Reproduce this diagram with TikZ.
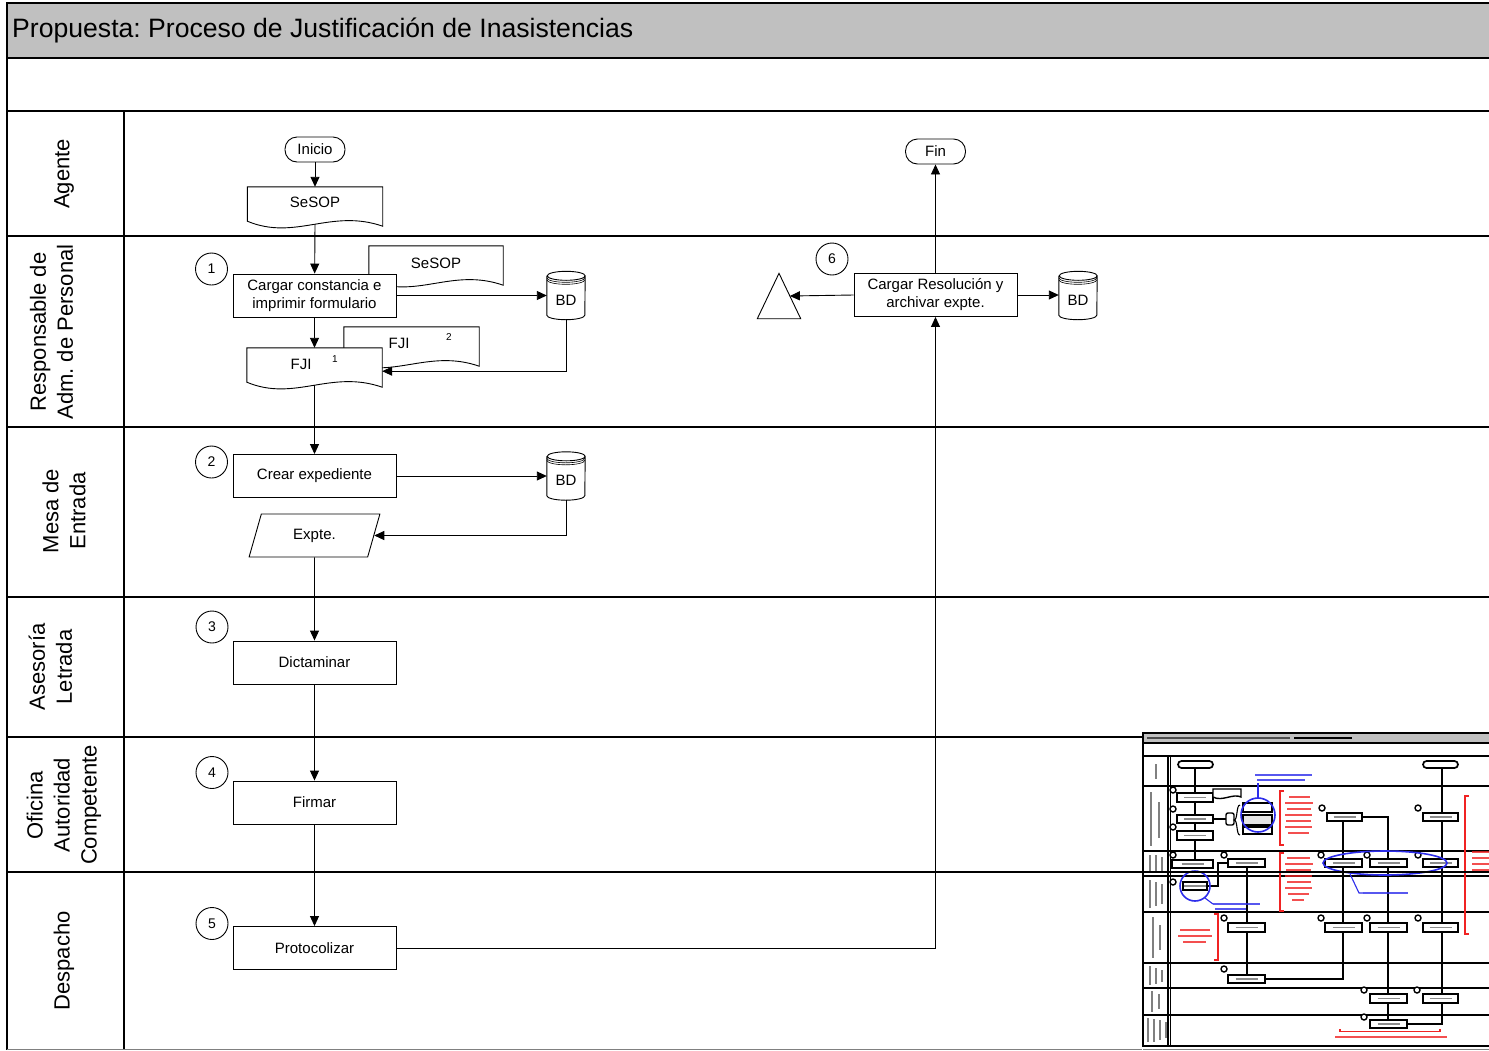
\documentclass[tikz,border=0pt]{standalone}
\usepackage{fontspec}
\setmainfont{Liberation Sans}
\usetikzlibrary{arrows.meta,calc,shapes.geometric}
\frenchspacing

\definecolor{bandgray}{RGB}{192,192,192}
\definecolor{thblue}{RGB}{45,45,235}
\definecolor{thred}{RGB}{240,35,35}

\newcommand\nodefont{\fontsize{15}{18}\selectfont}
\newcommand\lanefont{\fontsize{22}{27}\selectfont}
\newcommand\numfont{\fontsize{14}{16}\selectfont}
\newcommand\supfont{\fontsize{10}{12}\selectfont}
\newcommand\titlefont{\fontsize{26.6}{30}\selectfont}

% document outline (wavy bottom) around an empty node
\newcommand\docoutline[1]{%
  \draw[shapeline,fill=white] (#1.north west) -- (#1.north east) -- ($(#1.south east)+(0,3)$)
    .. controls ($(#1.south east)+(-52,-15)$) and ($(#1.south west)+(48,18)$) .. ($(#1.south west)+(0,-2)$) -- cycle;}

% database cylinder around an empty node
\newcommand\dboutline[1]{%
  \draw[shapeline,fill=white] ($(#1.north west)+(0,4.5)$) -- ($(#1.south west)+(0,-4.5)$)
    arc[start angle=180,end angle=360,x radius=19pt,y radius=4.5pt] -- ($(#1.north east)+(0,4.5)$)
    arc[start angle=0,end angle=360,x radius=19pt,y radius=4.5pt];
  \draw[line width=0.6pt] ($(#1.north west)+(0,6.5)$) arc[start angle=180,end angle=360,x radius=19pt,y radius=4.5pt];
  \draw[line width=0.6pt] ($(#1.north west)+(0,8.5)$) arc[start angle=180,end angle=360,x radius=19pt,y radius=4.5pt];}

% small process box of the inset sheet
\newcommand\thbox[4]{%
  \draw[line width=1.7pt,fill=white] (#1,#2) rectangle (#3,#4);
  \draw[line width=1.2pt,black!45] ($(#1,#2)!0.5!(#3,#4)+(-11,0)$) -- ++(22,0);}
\newcommand\thcirc[2]{\draw[line width=1.4pt,fill=white] (#1,#2) circle[radius=3pt];}

\begin{document}
\begin{tikzpicture}[x=1pt,y=-1pt,
  shapeline/.style={line width=0.9pt,draw=black},
  proc/.style={shapeline,fill=white,minimum width=163pt,minimum height=43pt,inner sep=0pt,align=center,font=\nodefont},
  term/.style={shapeline,fill=white,rounded corners=12pt,minimum width=60pt,minimum height=25pt,inner sep=0pt,font=\nodefont},
  docbox/.style={minimum width=135pt,minimum height=36pt,inner sep=0pt},
  dbbox/.style={minimum width=38pt,minimum height=48pt,inner sep=0pt},
  tribox/.style={minimum width=43pt,minimum height=45pt,inner sep=0pt},
  expteshape/.style={trapezium,trapezium left angle=70,trapezium right angle=110,trapezium stretches=true,
     shapeline,fill=white,minimum width=131pt,minimum height=43pt,inner sep=0pt,font=\nodefont},
  txt/.style={font=\nodefont,inner sep=0pt},
  stepnum/.style={shapeline,circle,minimum size=32pt,inner sep=0pt,font=\numfont},
  flow/.style={line width=0.9pt,-{Triangle[length=10pt,width=9pt]}},
  laneline/.style={line width=1.5pt},
  lanelabel/.style={rotate=90,align=center,font=\lanefont,inner sep=0pt},
  thline/.style={line width=1.6pt},
  thtext/.style={line width=1.2pt,opacity=0.8}]

\path[clip] (0,0) rectangle (1489,1050);

% ---- frame, title band and swimlanes
\fill[bandgray] (7,3) rectangle (1489,58);
\draw[line width=2.5pt] (1489,3) -- (7,3) -- (7,1050);
\draw[line width=2.5pt] (7,58) -- (1489,58);
\draw[line width=2.5pt] (7,111) -- (1489,111);
\draw[laneline] (124,111) -- (124,1050);
\foreach \y in {236,427,597,737,872} \draw[laneline] (7,\y) -- (1489,\y);
\draw[line width=1pt,gray] (7,1049) -- (1489,1049);

\node[anchor=west,font=\titlefont,inner sep=0pt] (title) at (12,30)
  {Propuesta: Proceso de Justificación de Inasistencias};

\node[lanelabel] (lagente) at (64,174) {Agente};
\node[lanelabel] (lresp) at (51.5,332) {Responsable de\\Adm. de Personal};
\node[lanelabel] (lmesa) at (64,511) {Mesa de\\Entrada};
\node[lanelabel] (lases) at (50.5,667) {Asesoría\\Letrada};
\node[lanelabel] (lofic) at (64,805) {Oficina\\Autoridad\\Competente};
\node[lanelabel] (ldesp) at (64,961) {Despacho};

% ---- Agente
\node[term] (inicio) at (315,149.5) {Inicio};
\node[docbox] (sesopA) at (315,205) {};
\docoutline{sesopA}
\node[txt] (sesopAt) at (315,202) {SeSOP};

% ---- Responsable de Adm. de Personal
\node[stepnum] (n1) at (211.5,269) {1};
\node[docbox,minimum width=134pt] (sesopB) at (436,264) {};
\docoutline{sesopB}
\node[txt] (sesopBt) at (436,263) {SeSOP};
\node[proc] (cargar) at (314.5,295.5) {Cargar constancia e\\imprimir formulario};
\node[dbbox] (bd1) at (566,295.5) {};
\dboutline{bd1}
\node[txt] (bd1t) at (566,300) {BD};
\node[docbox] (fji2) at (411.5,345) {};
\docoutline{fji2}
\node[txt] (fji2t) at (399,343) {FJI};
\node[txt,font=\supfont] (fji2s) at (449,337) {2};
\node[docbox] (fji1) at (314.5,366) {};
\docoutline{fji1}
\node[txt] (fji1t) at (301,364) {FJI};
\node[txt,font=\supfont] (fji1s) at (335,359) {1};

% ---- Mesa de Entrada
\node[stepnum] (n2) at (211.5,462) {2};
\node[proc] (crear) at (314.5,476) {Crear expediente};
\node[dbbox] (bd2) at (566,476) {};
\dboutline{bd2}
\node[txt] (bd2t) at (566,480.5) {BD};
\node[expteshape] (expte) at (314.5,535.5) {Expte.};

% ---- Asesoría Letrada, Oficina, Despacho
\node[stepnum] (n3) at (212,627) {3};
\node[proc] (dict) at (314.5,662.5) {Dictaminar};
\node[stepnum] (n4) at (212,772.5) {4};
\node[proc] (firmar) at (314.5,802.5) {Firmar};
\node[stepnum] (n5) at (212,923.5) {5};
\node[proc] (proto) at (314.5,948) {Protocolizar};

% ---- closing step
\node[stepnum] (n6) at (832,259) {6};
\node[proc] (resol) at (935.5,295) {Cargar Resolución y\\archivar expte.};
\node[tribox] (tri) at (779,296) {};
\draw[shapeline,fill=white] (tri.north) -- (tri.south east) -- (tri.south west) -- cycle;
\node[dbbox] (bd3) at (1078,295.5) {};
\dboutline{bd3}
\node[txt] (bd3t) at (1078,300) {BD};
\node[term] (fin) at (935.5,151.5) {Fin};

% ---- connectors
\draw[flow] (inicio) -- (sesopA);
\draw[flow] ($(sesopA.south)+(0,1)$) -- (cargar);
\draw[flow] (cargar.east) -- (cargar.east -| bd1.west);
\draw[flow] (cargar) -- (fji1);
\draw[flow] (bd1.south) |- ($(fji1.south east)+(0,-13)$);
\draw[flow] ($(fji1.south)+(0,1)$) -- (crear);
\draw[flow] (crear.east) -- (crear.east -| bd2.west);
\draw[flow] (bd2.south) |- (expte);
\draw[flow] (expte) -- (dict);
\draw[flow] (dict) -- (firmar);
\draw[flow] (firmar) -- (proto);
\draw[flow] (proto.east) -| (resol.south);
\draw[flow] (resol.west) -- ($(tri.north)!0.5!(tri.south east)$);
\draw[flow] (resol.east) -- (resol.east -| bd3.west);
\draw[flow] (resol) -- (fin);

% ---- inset sheet: reduced view of the former process
\fill[white] (1142,731) rectangle (1489,1050);
\fill[bandgray] (1143,733) rectangle (1489,743);
\draw[line width=1.5pt,black!70] (1147,738) -- (1290,738);
\draw[line width=1.8pt] (1294,738) -- (1352,738);
\draw[line width=1.8pt] (1489,733) -- (1143,733) -- (1143,1046) -- (1489,1046);
\foreach \y in {743,756,786,851,876,912,963,988,1015} \draw[thline] (1143,\y) -- (1489,\y);
\draw[thline] (1168,756) -- (1168,1046);
\draw[line width=0.8pt] (1170.5,756) -- (1170.5,1046);
\draw[line width=0.8pt,gray] (1143,1049) -- (1489,1049);
% lane captions of the inset
\foreach \x/\ya/\yb in {1156/764/779, 1151/792/846, 1159/802/838, 1150/855/873, 1156/855/873, 1162/857/871,
  1150/880/908, 1156/882/906, 1162/884/904, 1153/917/958, 1160/925/950, 1150/966/985, 1156/968/984, 1162/970/982,
  1152/991/1012, 1159/994/1009, 1148/1018/1042, 1154/1019/1042, 1160/1020/1040, 1166/1022/1038}
  \draw[line width=1.3pt,black!50] (\x,\ya) -- (\x,\yb);
% connectors of the inset
\draw[thline] (1195,768) -- (1195,860);
\draw[thline] (1213,819) -- (1226,819);
\draw[thline] (1343,821) -- (1343,979) -- (1265,979);
\draw[thline] (1362,817) -- (1388,817) -- (1388,1020);
\draw[thline] (1442,768) -- (1442,1024) -- (1407,1024);
\draw[thline] (1247,867) -- (1247,975);
\draw[thline] (1207,886) -- (1218,886) -- (1218,863) -- (1228,863);
% terminals
\draw[line width=1.7pt,fill=white,rounded corners=3.5pt] (1178,761) rectangle (1213,768);
\draw[line width=1.7pt,fill=white,rounded corners=3.5pt] (1423,761) rectangle (1458,768);
% responsible lane
\thbox{1177}{793}{1213}{802}\thcirc{1173}{790}
\thbox{1177}{815}{1213}{823}\thcirc{1173}{809}
\thbox{1177}{831}{1213}{840}\thcirc{1173}{827}
\draw[line width=1.4pt,fill=white] (1213,789) -- (1241,789) -- (1241,797) .. controls (1233,793) and (1222,802) .. (1213,797) -- cycle;
\draw[line width=1.4pt,fill=white,rounded corners=2pt] (1226,813) rectangle (1234,825);
\draw[line width=1.1pt] (1240,805) .. controls (1236,805) and (1238,820) .. (1234,820) .. controls (1238,820) and (1236,835) .. (1240,835);
\draw[line width=1.4pt,fill=white] (1243,803) rectangle (1272,812);
\draw[line width=1.4pt,fill=black!10] (1243,815) rectangle (1272,825);
\draw[line width=1.4pt,fill=white] (1243,827) rectangle (1272,834);
\draw[thblue,line width=1.6pt] (1258,815) circle[radius=17pt];
\draw[thblue,line width=1.1pt] (1258,798) -- (1258,783);
\draw[thblue,thtext] (1255,775) -- (1312,775);
\draw[thblue,thtext] (1257,780) -- (1305,780);
\draw[thred,line width=1.3pt] (1284,791) -- (1280,791) -- (1280,845) -- (1284,845);
\foreach \y/\a/\b in {797/1289/1310,803/1285/1313,809/1287/1311,815/1285/1312,821/1286/1311,827/1285/1312,833/1288/1309}
  \draw[thred,thtext] (\a,\y) -- (\b,\y);
\thbox{1327}{813}{1362}{821}\thcirc{1322}{808}
\thbox{1423}{813}{1458}{821}\thcirc{1418}{808}
% entry desk lane
\thbox{1172}{860}{1213}{868}\thcirc{1173}{855}
\thbox{1228}{859}{1265}{867}\thcirc{1224}{855}
\thbox{1325}{859}{1362}{867}\thcirc{1321}{855}
\thbox{1370}{859}{1407}{867}\thcirc{1367}{855}
\thbox{1423}{859}{1458}{867}\thcirc{1418}{855}
\draw[thblue,line width=1.6pt] (1385,863) ellipse[x radius=62pt,y radius=12pt];
\draw[thblue,line width=1.1pt] (1350,874) -- (1359,893) -- (1363,893);
\draw[thblue,thtext] (1363,893) -- (1408,893);
\draw[thred,line width=1.3pt] (1284,853) -- (1280,853) -- (1280,911) -- (1284,911);
\foreach \y/\a/\b in {858/1287/1310,864/1285/1313,870/1286/1311,876/1285/1312,882/1287/1311,888/1285/1312,894/1288/1309,900/1292/1304}
  \draw[thred,thtext] (\a,\y) -- (\b,\y);
\draw[thred,line width=1.3pt] (1469,796) -- (1465,796) -- (1465,934) -- (1469,934);
\foreach \y in {852,858,864,870}
  \draw[thred,thtext] (1472,\y) -- (1489,\y);
% legal lane
\thbox{1183}{882}{1207}{890}\thcirc{1173}{882}
\draw[thblue,line width=1.6pt] (1195,886) circle[radius=15pt];
\draw[thblue,line width=1.1pt] (1205,898) -- (1213,904);
\draw[thblue,thtext] (1213,904) -- (1260,904);
\draw[thblue,thtext] (1215,909) -- (1246,909);
% signature lane
\thbox{1228}{923}{1265}{932}\thcirc{1224}{918}
\thbox{1325}{923}{1362}{932}\thcirc{1321}{918}
\thbox{1370}{923}{1407}{932}\thcirc{1367}{918}
\thbox{1423}{923}{1458}{932}\thcirc{1418}{918}
\draw[thred,line width=1.3pt] (1214,914) -- (1218,914) -- (1218,960) -- (1214,960);
\foreach \y/\a/\b in {930/1180/1210,936/1178/1212,942/1183/1206}
  \draw[thred,thtext] (\a,\y) -- (\b,\y);
% remaining lanes
\thbox{1228}{975}{1265}{983}\thcirc{1224}{969}
\thbox{1370}{994}{1407}{1003}\thcirc{1364}{990}
\thbox{1423}{994}{1458}{1003}\thcirc{1417}{990}
\thbox{1370}{1020}{1407}{1028}\thcirc{1364}{1017}
\draw[thred,line width=1.3pt] (1340,1029) -- (1340,1031.5) -- (1440,1031.5) -- (1440,1029);
\draw[thred,thtext] (1335,1037) -- (1447,1037);

% lane border of the main sheet crossing the inset
\draw[laneline] (1142,872) -- (1489,872);
\end{tikzpicture}
\end{document}
